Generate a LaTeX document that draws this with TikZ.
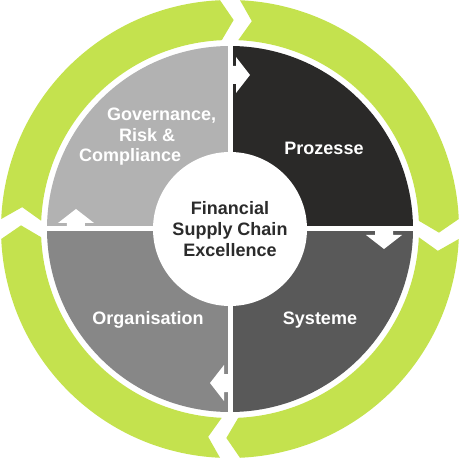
\documentclass[tikz,border=0pt]{standalone}
\usepackage{fontspec}
\setmainfont{Liberation Sans}
\usepackage{xcolor}
\usetikzlibrary{positioning}

\definecolor{ringgreen}{RGB}{196,226,78}
\definecolor{govgray}{RGB}{178,178,178}
\definecolor{progray}{RGB}{42,41,40}
\definecolor{sysgray}{RGB}{89,89,89}
\definecolor{orggray}{RGB}{135,135,135}
\definecolor{textdark}{RGB}{43,43,43}

\pgfdeclareradialshading{centreglow}{\pgfpoint{0bp}{0bp}}{color(0bp)=(white); color(40bp)=(white); color(47bp)=(black!10); color(50bp)=(black!28)}

\begin{document}
\begin{tikzpicture}[x=1pt, y=1pt,
    quad/.style = {font=\fontsize{18}{20.5}\selectfont\bfseries, text=white, inner sep=0pt},
    core/.style = {circle, minimum size=154pt, inner sep=0pt, shading=centreglow, align=center, text=textdark, font=\fontsize{18}{21}\selectfont\bfseries}]
    \useasboundingbox (-230,-231) rectangle (230,229);

    % green ring, one arrow per quarter
    \foreach \c in {180,90,0,-90} {
        \pgfmathsetmacro{\s}{\c-2.5}
        \pgfmathsetmacro{\e}{\c-87.5}
        \fill[ringgreen] (\s:229) arc[start angle=\s, end angle=\e, radius=229]
            -- (\e-3.5:209) -- (\e:189) arc[start angle=\e, end angle=\s, radius=189]
            -- (\s-3.5:209) -- cycle;
    }

    % quarters
    \fill[govgray] (0,0) -- (180:183) arc[start angle=180, end angle=90, radius=183] -- cycle;
    \fill[progray] (0,0) -- (90:183) arc[start angle=90, end angle=0, radius=183] -- cycle;
    \fill[sysgray] (0,0) -- (0:183) arc[start angle=0, end angle=-90, radius=183] -- cycle;
    \fill[orggray] (0,0) -- (-90:183) arc[start angle=-90, end angle=-180, radius=183] -- cycle;
    \draw[white, line width=5pt] (-184,0) -- (184,0);
    \draw[white, line width=5pt] (0,-184) -- (0,184);

    % small arrows on the dividers
    \foreach \r in {0,-90,-180,-270}
        \fill[white, rotate=\r] (0,145) -- (6,145) -- (6,136) -- (20,154) -- (6,172) -- (6,163) -- (0,163) -- cycle;

    \node[core] (centre) at (0,0) {Financial\\Supply Chain\\Excellence};

    \node[quad] (prozesse) at (94,81) {Prozesse};
    \node[quad] (systeme) at (90,-91) {Systeme};
    \node[quad] (organisation) at (-82,-91) {Organisation};
    \node[quad, anchor=west, align=left] (governance) at (-151,92) {\hspace{28pt}Governance,\\\hspace{40pt}Risk \&\\Compliance};

\end{tikzpicture}
\end{document}
